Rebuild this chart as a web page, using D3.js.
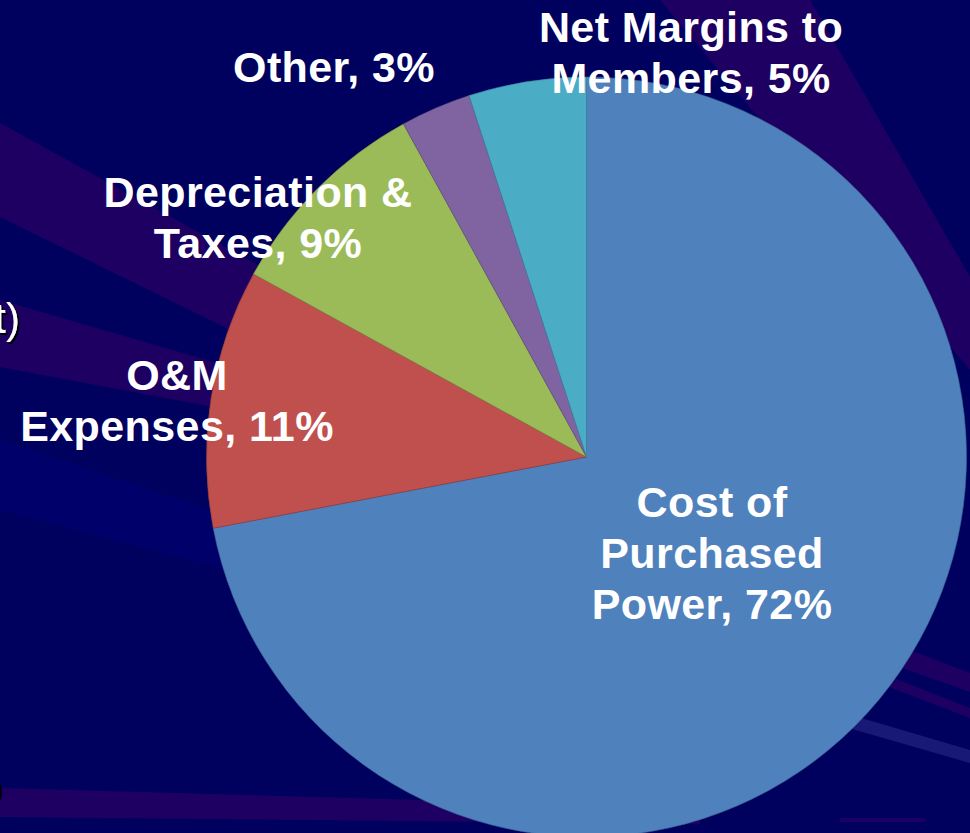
<!DOCTYPE html>
<html>
<head>
<meta charset="utf-8">
<script src="https://cdn.jsdelivr.net/npm/d3@7"></script>
<style>
  html, body { margin: 0; padding: 0; background: #00005f; overflow: hidden; }
  svg { display: block; }
</style>
</head>
<body>
<svg id="chart" width="970" height="833"></svg>
<script>
// ---- data ----
const categories = ["Cost of Purchased Power", "O&M Expenses", "Depreciation & Taxes", "Other", "Net Margins to Members"];
const values = [72, 11, 9, 3, 5];
const labelLines = [
  ["Cost of", "Purchased", "Power, 72%"],
  ["O&M", "Expenses, 11%"],
  ["Depreciation &", "Taxes, 9%"],
  ["Other, 3%"],
  ["Net Margins to", "Members, 5%"]
];
const colors = ["#4F81BD", "#C0504D", "#9BBB59", "#8064A2", "#4BACC6"];

// ---- layout ----
const W = 970, H = 833;
const cx = 586.5, cy = 457, R = 380;
// label anchor (first baseline) relative to pie centre
const labelOffsets = [[125.5, 60], [-409.5, -67], [-328.5, -250], [-252.5, -375], [104.5, -415]];
const lineHeight = 51;

// decorative background rays
const bgRays = [
  { c: "#1e0062", p: [[0,123],[400,343],[400,413],[0,217]] },
  { c: "#1e0062", p: [[0,300],[400,416],[400,442],[0,367]] },
  { c: "#00006b", p: [[0,440],[400,572],[400,615],[0,510]] },
  { c: "#1e0062", p: [[0,788],[700,808],[700,824],[0,817]] },
  { c: "#1e0062", p: [[660,0],[810,0],[970,277],[970,370]] },
  { c: "#1e0062", p: [[860,631],[970,673],[970,692],[860,653]] },
  { c: "#1e0062", p: [[860,665],[970,708],[970,718],[860,676]] },
  { c: "#181876", p: [[800,700],[970,750],[970,763],[800,714]] },
  { c: "#1a0066", p: [[840,818],[925,818],[925,822],[840,822]] }
];

const svg = d3.select("#chart");
const defs = svg.append("defs");
defs.append("filter").attr("id", "shadow").attr("x", "-20%").attr("y", "-20%").attr("width", "150%").attr("height", "150%")
  .append("feDropShadow").attr("dx", 2).attr("dy", 2).attr("stdDeviation", 0.6).attr("flood-color", "#000").attr("flood-opacity", 1);

svg.append("rect").attr("width", W).attr("height", H).attr("fill", "#00005f");

svg.append("g").selectAll("polygon").data(bgRays).join("polygon")
  .attr("points", d => d.p.map(q => q.join(",")).join(" "))
  .attr("fill", d => d.c);

// cut-off slide text fragments
svg.append("text").attr("x", 20).attr("y", 333).attr("text-anchor", "end")
  .attr("font-family", "Liberation Sans, Arial, sans-serif").attr("font-size", 42)
  .attr("fill", "#fff").attr("filter", "url(#shadow)").text("t)");
svg.append("text").attr("x", 4).attr("y", 800).attr("text-anchor", "end")
  .attr("font-family", "Liberation Sans, Arial, sans-serif").attr("font-size", 34)
  .attr("fill", "#000").text(")");

// ---- pie ----
const color = d3.scaleOrdinal().domain(categories).range(colors);
const pie = d3.pie().sort(null).value(d => d.value);
const arcs = pie(categories.map((c, i) => ({ category: c, value: values[i], lines: labelLines[i], off: labelOffsets[i] })));
const arc = d3.arc().innerRadius(0).outerRadius(R);

const g = svg.append("g").attr("transform", `translate(${cx},${cy})`);
g.selectAll("path").data(arcs).join("path")
  .attr("d", arc)
  .attr("fill", d => color(d.data.category))
  .attr("stroke", d => d3.color(color(d.data.category)).darker(0.7))
  .attr("stroke-width", 0.6);

// ---- labels ----
const lbl = g.selectAll("text.lbl").data(arcs).join("text")
  .attr("class", "lbl")
  .attr("text-anchor", "middle")
  .attr("font-family", "Liberation Sans, Arial, sans-serif")
  .attr("font-weight", "bold")
  .attr("font-size", 43)
  .attr("letter-spacing", 0.4)
  .attr("fill", "#fff")
  .attr("transform", d => `translate(${d.data.off[0]},${d.data.off[1]})`);
lbl.selectAll("tspan").data(d => d.data.lines).join("tspan")
  .attr("x", 0)
  .attr("y", (d, i) => i * lineHeight)
  .text(d => d);
</script>
</body>
</html>
